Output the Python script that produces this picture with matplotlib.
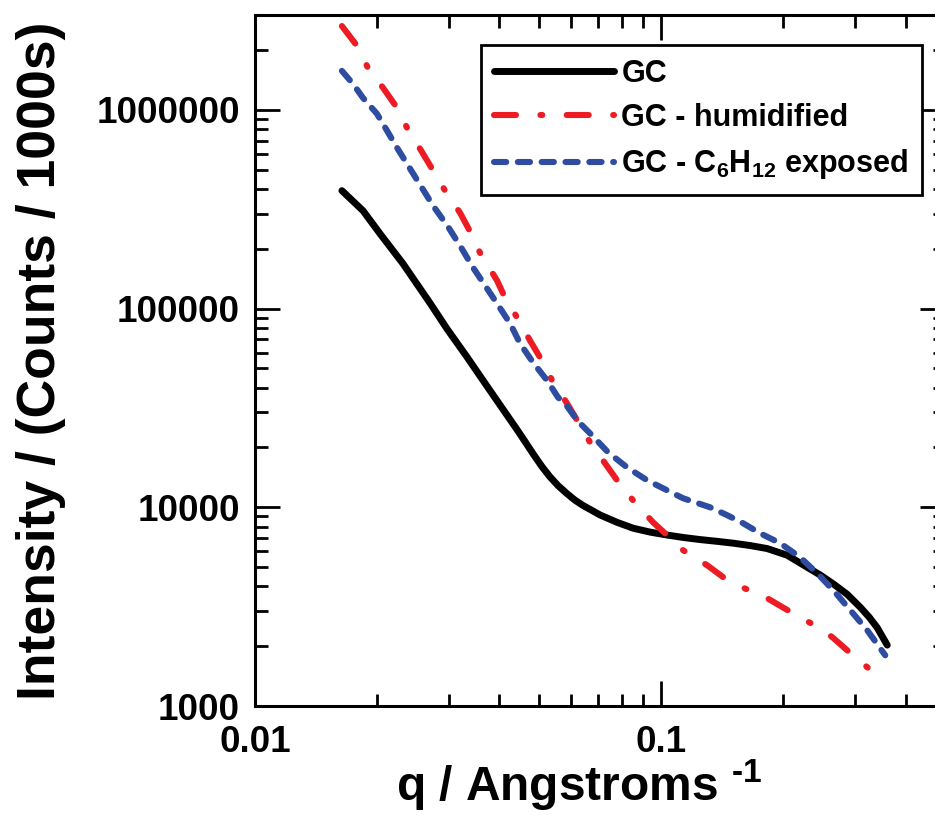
import matplotlib
matplotlib.use("Agg")
import matplotlib.pyplot as plt
from matplotlib.ticker import LogLocator, NullFormatter, FuncFormatter

plt.rcParams['font.family'] = ['Liberation Sans', 'DejaVu Sans']
plt.rcParams['font.weight'] = 'bold'
plt.rcParams['mathtext.fontset'] = 'custom'
plt.rcParams['mathtext.rm'] = 'Liberation Sans:bold'
plt.rcParams['mathtext.bf'] = 'Liberation Sans:bold'
plt.rcParams['mathtext.default'] = 'rm'

# scattering curves, q in 1/Angstrom, intensity in counts per 1000 s
q_gc = [0.01637, 0.01845, 0.02032, 0.02314, 0.02698, 0.02971, 0.03328, 0.03644,
        0.04012, 0.04418, 0.04624, 0.04838, 0.05091, 0.0533, 0.05576, 0.05868,
        0.06141, 0.0643, 0.07074, 0.0779, 0.0853, 0.09397, 0.1035, 0.1133,
        0.1248, 0.1374, 0.1504, 0.1656, 0.1824, 0.2043, 0.2290, 0.2466,
        0.2653, 0.2871, 0.3093, 0.3253, 0.3404, 0.3604]
i_gc = [392000, 310700, 238000, 168300, 106500, 79000, 57000, 43500,
        32700, 24600, 21400, 18600, 16000, 14200, 12850, 11700,
        10850, 10200, 9150, 8400, 7850, 7500, 7250, 7050,
        6880, 6740, 6600, 6420, 6200, 5740, 4990, 4560,
        4120, 3650, 3140, 2800, 2480, 2026]

q_hum = [0.01637, 0.01783, 0.01898, 0.02067, 0.02238, 0.02368, 0.02549, 0.02729,
         0.02938, 0.03199, 0.03386, 0.03581, 0.03945, 0.04083, 0.04418, 0.04756,
         0.05035, 0.05391, 0.05868, 0.06211, 0.06687, 0.07195, 0.07792, 0.0853,
         0.0955, 0.1035, 0.1133, 0.1298, 0.1422, 0.1583, 0.1824, 0.1986,
         0.2198, 0.2506, 0.2653, 0.2921, 0.3215, 0.3423]
i_hum = [2640000, 2100000, 1625000, 1290000, 1023000, 812000, 637000, 505000,
         392000, 303000, 244000, 191000, 138300, 118900, 90100, 69000,
         56700, 43500, 33300, 27400, 21200, 17200, 13670, 10840,
         8410, 7230, 6080, 5110, 4450, 3960, 3490, 3150,
         2800, 2410, 2200, 1850, 1570, 1400]

q_c6 = [0.01637, 0.01743, 0.01845, 0.01997, 0.02115, 0.02238, 0.02368, 0.02549,
        0.02745, 0.02988, 0.03199, 0.03443, 0.03686, 0.03945, 0.04248, 0.04495,
        0.04838, 0.05239, 0.05576, 0.05801, 0.06211, 0.06761, 0.07405, 0.08245,
        0.0924, 0.1035, 0.1133, 0.1320, 0.1455, 0.1592, 0.1753, 0.1963,
        0.2198, 0.2421, 0.2653, 0.2921, 0.3215, 0.3563]
i_c6 = [1570000, 1351000, 1148000, 955000, 784000, 644000, 535000, 420000,
        329000, 258000, 207000, 160800, 130500, 106000, 84100, 66700,
        53500, 43500, 35700, 33300, 27400, 23000, 18900, 15880,
        13670, 12170, 11100, 10000, 9120, 8310, 7400, 6600,
        5610, 4660, 3830, 3040, 2410, 1800]

fig = plt.figure(figsize=(9.35, 8.15), dpi=100)
# right spine sits just past the right edge of the canvas
ax = fig.add_axes([0.2727, 0.1337, 0.738, 0.8479])

ax.plot(q_gc, i_gc, color='black', lw=5, solid_capstyle='round',
        solid_joinstyle='round', label='GC')
ax.plot(q_hum, i_hum, color='#ED1C24', lw=4.4, linestyle=(0, (3.6, 4.0, 0.3, 4.0)),
        dash_capstyle='round', label='GC - humidified')
ax.plot(q_c6, i_c6, color='#2E4DA0', lw=4.4, linestyle=(0, (2.0, 1.9)),
        dash_capstyle='round', label='GC - C$_6$H$_{12}$ exposed')

ax.set_xscale('log')
ax.set_yscale('log')
ax.set_xlim(0.01, 0.5)
ax.set_ylim(1000, 3.0e6)

ax.xaxis.set_major_locator(LogLocator(base=10, numticks=10))
ax.xaxis.set_minor_locator(LogLocator(base=10, subs=range(2, 10), numticks=20))
ax.yaxis.set_major_locator(LogLocator(base=10, numticks=10))
ax.yaxis.set_minor_locator(LogLocator(base=10, subs=range(2, 10), numticks=20))
ax.xaxis.set_major_formatter(FuncFormatter(lambda v, p: f'{v:g}'))
ax.yaxis.set_major_formatter(FuncFormatter(lambda v, p: f'{v:.0f}'))
ax.xaxis.set_minor_formatter(NullFormatter())
ax.yaxis.set_minor_formatter(NullFormatter())

ax.tick_params(which='both', direction='in', top=True, right=True, width=2)
ax.tick_params(which='major', length=18, labelsize=26.5)
ax.tick_params(which='minor', length=9)
ax.tick_params(axis='x', which='major', pad=14)
ax.tick_params(axis='y', which='major', pad=11)
for sp in ax.spines.values():
    sp.set_linewidth(2.2)

ax.set_xlabel('q / Angstroms $^{\\text{-1}}$', fontsize=34.5, fontweight='bold',
              labelpad=-2)
ax.xaxis.label.set_x(0.47)
ax.set_ylabel('Intensity / (Counts / 1000s)', fontsize=38.5, fontweight='bold',
              labelpad=22)

leg = ax.legend(loc='upper right', bbox_to_anchor=(0.967, 0.9566), fontsize=22,
                handlelength=3.9, handletextpad=0.26, borderpad=0.45,
                labelspacing=0.47, borderaxespad=0, fancybox=False,
                framealpha=1, edgecolor='black')
leg.get_frame().set_linewidth(2)

fig.savefig('out.png', dpi=100)
